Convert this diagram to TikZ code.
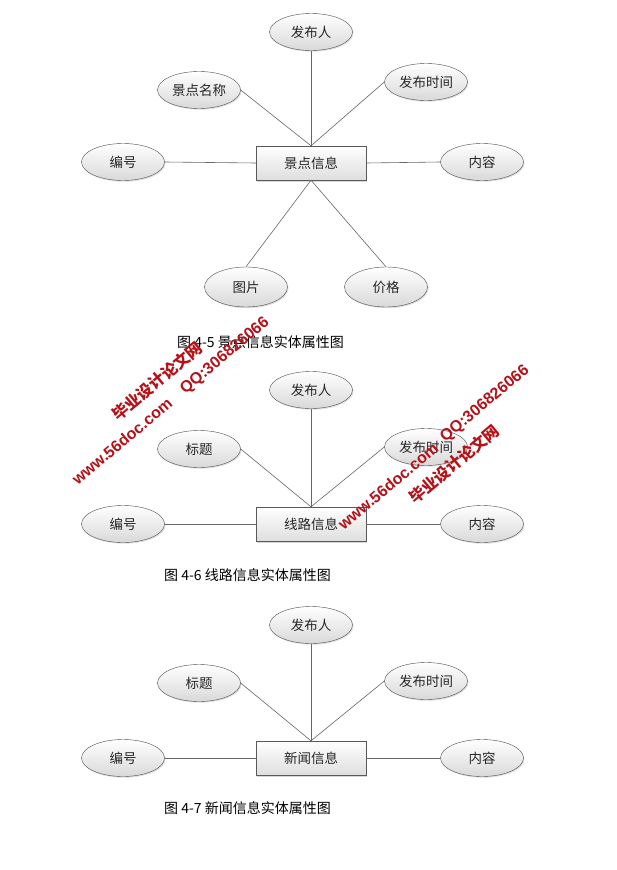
\documentclass[tikz,border=0pt]{standalone}
\usepackage{fontspec}
\newfontfamily\cjk{Noto Sans CJK SC}
\setsansfont{Liberation Sans}
\usetikzlibrary{shapes.geometric,shadows}
\definecolor{wmred}{RGB}{180,18,24}
\tikzset{
  attr/.style={ellipse, draw=black!70, top color=white, bottom color=black!15,
    minimum width=83pt, minimum height=37pt, inner sep=0pt,
    drop shadow={opacity=0.25, shadow xshift=1pt, shadow yshift=-1.2pt},
    font=\cjk\fontsize{13.5}{14}\selectfont, text=black!85},
  entity/.style={rectangle, draw=black!65, top color=white, bottom color=black!13,
    minimum width=110pt, minimum height=34pt, inner sep=0pt,
    drop shadow={opacity=0.3, shadow xshift=1.2pt, shadow yshift=-1.5pt},
    font=\cjk\fontsize{13.5}{14}\selectfont, text=black!85},
  link/.style={draw=black!60, line width=0.6pt},
  figcap/.style={anchor=west, inner sep=0pt, font=\cjk\fontsize{14}{14}\selectfont},
  wm/.style={rotate=40, text=wmred, inner sep=0pt, font=\bfseries\fontsize{16}{16}\selectfont}
}
\begin{document}
\begin{tikzpicture}[x=1pt, y=-1pt]
    \useasboundingbox[fill=white] (0,0) rectangle (617,870);
    % fig 4-5
    \node[entity] (ent1) at (311,163) {景点信息};
    \node[attr] (pub1) at (311,32) {发布人};
    \node[attr] (name1) at (199,90) {景点名称};
    \node[attr] (time1) at (426,82) {发布时间};
    \node[attr] (id1) at (123,162) {编号};
    \node[attr] (cont1) at (482,162) {内容};
    \node[attr, minimum height=40pt] (pic1) at (246,287) {图片};
    \node[attr, minimum height=40pt] (price1) at (386,287) {价格};
    \draw[link] (pub1.south) -- (ent1.north);
    \draw[link] (name1.east) -- (ent1.north);
    \draw[link] (time1.west) -- (ent1.north);
    \draw[link] (id1.east) -- (ent1.west);
    \draw[link] (ent1.east) -- (cont1.west);
    \draw[link] (ent1.south) -- (pic1.north);
    \draw[link] (ent1.south) -- (price1.north);
    \node[figcap] (cap1) at (177,342) {图 4-5 景点信息实体属性图};
    % fig 4-6
    \node[entity] (ent2) at (311,524) {线路信息};
    \node[attr] (pub2) at (311,390) {发布人};
    \node[attr] (tit2) at (199,449) {标题};
    \node[attr] (time2) at (426,447) {发布时间};
    \node[attr] (id2) at (123,524) {编号};
    \node[attr] (cont2) at (482,524) {内容};
    \draw[link] (pub2.south) -- (ent2.north);
    \draw[link] (tit2.east) -- (ent2.north);
    \draw[link] (time2.west) -- (ent2.north);
    \draw[link] (id2.east) -- (ent2.west);
    \draw[link] (ent2.east) -- (cont2.west);
    \node[figcap] (cap2) at (164,575) {图 4-6 线路信息实体属性图};
    % fig 4-7
    \node[entity] (ent3) at (311,758) {新闻信息};
    \node[attr] (pub3) at (311,625) {发布人};
    \node[attr] (tit3) at (199,683) {标题};
    \node[attr] (time3) at (426,681) {发布时间};
    \node[attr] (id3) at (123,758) {编号};
    \node[attr] (cont3) at (482,758) {内容};
    \draw[link] (pub3.south) -- (ent3.north);
    \draw[link] (tit3.east) -- (ent3.north);
    \draw[link] (time3.west) -- (ent3.north);
    \draw[link] (id3.east) -- (ent3.west);
    \draw[link] (ent3.east) -- (cont3.west);
    \node[figcap] (cap3) at (164,808) {图 4-7 新闻信息实体属性图};
    % watermark
    \node[wm] (wmsite1) at (122,441) {\sffamily www.56doc.com};
    \node[wm] (wmname1) at (157,381) {\cjk\bfseries 毕业设计论文网};
    \node[wm] (wmqq1) at (225,356) {\sffamily QQ:306826066};
    \node[wm] (wmsite2) at (388,486) {\sffamily www.56doc.com};
    \node[wm] (wmname2) at (454,464) {\cjk\bfseries 毕业设计论文网};
    \node[wm] (wmqq2) at (485,404) {\sffamily QQ:306826066};
\end{tikzpicture}
\end{document}
